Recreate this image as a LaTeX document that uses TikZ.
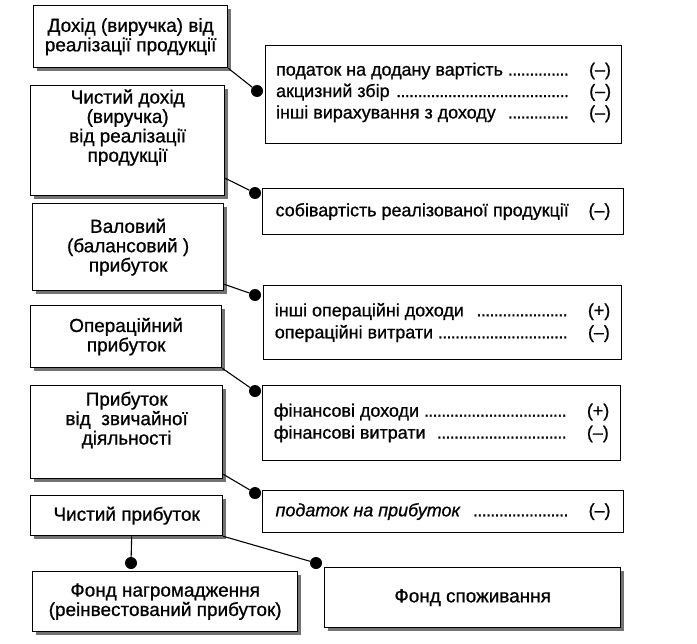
\documentclass[tikz,border=0pt]{standalone}
\usepackage{fontspec}
\setmainfont{Liberation Sans}[FakeBold=0.8]
\usetikzlibrary{shadows}

\newcommand{\krapky}{\leaders\hbox to 4.3bp{\hss.\hss}\hfill}
\newcommand{\punkt}[2]{\makebox[294bp][l]{#1}\hspace{19bp}#2}

\begin{document}
\begin{tikzpicture}[x=1bp,y=-1bp]
\tikzset{
  leftbox/.style={draw,line width=1.3bp,fill=white,align=center,anchor=north west,inner sep=0pt,
    font=\fontsize{19}{19.5}\selectfont,
    drop shadow={shadow xshift=3bp,shadow yshift=-3bp,fill=black!55,opacity=1}},
  itembox/.style={draw,line width=1.1bp,fill=white,align=left,anchor=north west,inner xsep=7bp,inner ysep=0pt,
    font=\fontsize{18}{18.5}\selectfont},
  joint/.style={circle,fill=black,inner sep=0pt,minimum size=12bp},
  link/.style={line width=1.1bp}
}
\useasboundingbox (0,0) rectangle (697,644);
% left column
\node[leftbox,minimum width=194bp,minimum height=62bp] (n_dohid) at (33,5) {Дохід (виручка) від\\реалізації продукції};
\node[leftbox,minimum width=194bp,minimum height=110bp,text depth=30bp] (n_chdohid) at (30,85) {Чистий дохід\\(виручка)\\від реалізації\\продукції};
\node[leftbox,minimum width=191bp,minimum height=87bp] (n_valprib) at (32,203) {Валовий\\(балансовий )\\прибуток};
\node[leftbox,minimum width=191bp,minimum height=62bp] (n_operprib) at (30,305) {Операційний\\прибуток};
\node[leftbox,minimum width=192bp,minimum height=93bp,text depth=28bp] (n_zvprib) at (30,385) {Прибуток\\від\ \ звичайної\\діяльності};
\node[leftbox,minimum width=192bp,minimum height=40bp] (n_chprib) at (30,495) {Чистий прибуток};
\node[leftbox,minimum width=265bp,minimum height=60bp] (n_fondnagr) at (32,571) {Фонд нагромадження\\(реінвестований прибуток)};
\node[leftbox,minimum width=296bp,minimum height=60bp] (n_fondspoz) at (324,567) {Фонд споживання};
% right column
\node[itembox,minimum width=356bp,minimum height=98bp,text depth=8bp] (n_vyrah) at (265,45)
  {\punkt{податок на додану вартість \krapky}{(–)}\\[3bp]
   \punkt{акцизний збір \krapky}{(–)}\\[3bp]
   \punkt{інші вирахування з доходу \ \krapky}{(–)}};
\node[itembox,minimum width=361bp,minimum height=46bp] (n_sobiv) at (262,188)
  {\punkt{собівартість реалізованої продукції}{(–)}};
\node[itembox,minimum width=358bp,minimum height=74bp] (n_operdoh) at (263,285)
  {\punkt{інші операційні доходи \ \krapky}{(+)}\\[3.5bp]
   \punkt{операційні витрати \krapky}{(–)}};
\node[itembox,minimum width=358bp,minimum height=75bp] (n_findoh) at (262,385)
  {\punkt{фінансові доходи \krapky}{(+)}\\[3.5bp]
   \punkt{фінансові витрати \ \krapky}{(–)}};
\node[itembox,minimum width=361bp,minimum height=42bp] (n_podatok) at (262,490)
  {\punkt{\textit{податок на прибуток} \ \krapky}{(–)}};
% joints
\node[joint] (d_vyrah) at (257,91) {};
\node[joint] (d_sobiv) at (255,193) {};
\node[joint] (d_operdoh) at (255,295) {};
\node[joint] (d_findoh) at (255,391) {};
\node[joint] (d_podatok) at (255,493) {};
\node[joint] (d_fondspoz) at (316,563) {};
\node[joint] (d_fondnagr) at (131,563) {};
% links
\draw[link] (n_dohid.south east) -- (d_vyrah);
\draw[link] ([yshift=18bp]n_chdohid.south east) -- (d_sobiv);
\draw[link] ([yshift=7bp]n_valprib.south east) -- (d_operdoh);
\draw[link] (n_operprib.south east) -- (d_findoh);
\draw[link] ([yshift=5bp]n_zvprib.south east) -- (d_podatok);
\draw[link] (n_chprib.south east) -- (d_fondspoz);
\draw[link] ([xshift=5bp]n_chprib.south) -- (d_fondnagr);
\end{tikzpicture}
\end{document}
